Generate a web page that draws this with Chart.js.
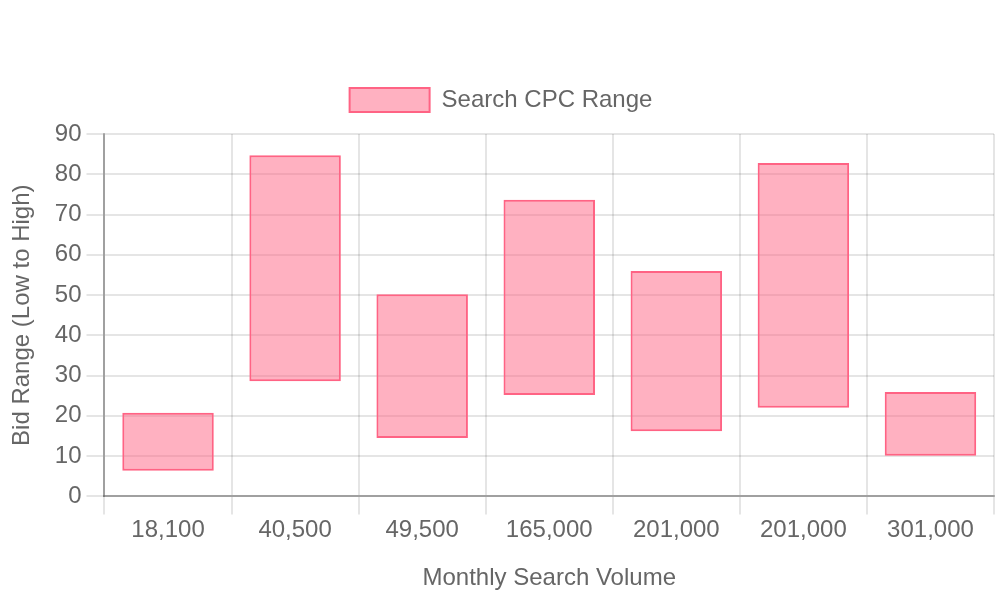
<!DOCTYPE html>
<html>
<head>
<meta charset="utf-8">
<script src="https://cdn.jsdelivr.net/npm/chart.js@4"></script>
<style>
  html, body { margin: 0; padding: 0; background: #fff; }
  #wrap { width: 1000px; height: 600px; }
</style>
</head>
<body>
<div id="wrap"><canvas id="grafico" width="1000" height="600"></canvas></div>
<script>
const volumes = ["18,100", "40,500", "49,500", "165,000", "201,000", "201,000", "301,000"];
const cpcLow = [6.4, 28.6, 14.5, 25.2, 16.2, 22.0, 10.1];
const cpcHigh = [20.8, 84.7, 50.2, 73.7, 56.0, 82.8, 25.9];
const yTicksMax = 90;

Chart.defaults.font.family = "'Liberation Sans', Arial, sans-serif";
Chart.defaults.font.size = 24;
Chart.defaults.color = "#666";

const ranges = cpcLow.map((low, i) => [low, cpcHigh[i]]);

const gradeEixo = {
  color: "rgba(0, 0, 0, 0.1)",
  lineWidth: 2,
  tickLength: 18
};
const bordaEixo = { color: "rgba(0, 0, 0, 0.3)", width: 2 };

// espaço extra abaixo da legenda
const margemLegenda = {
  id: "margemLegenda",
  beforeInit(chart) {
    const fitOriginal = chart.legend.fit;
    chart.legend.fit = function () {
      fitOriginal.bind(chart.legend)();
      this.height += 12;
    };
  }
};

const ctx = document.getElementById("grafico").getContext("2d");

new Chart(ctx, {
  type: "bar",
  data: {
    labels: volumes,
    datasets: [{
      label: "Search CPC Range",
      data: ranges,
      backgroundColor: "rgba(255, 99, 132, 0.5)",
      borderColor: "rgb(255, 99, 132)",
      borderWidth: 2,
      borderSkipped: false
    }]
  },
  plugins: [margemLegenda],
  options: {
    responsive: false,
    animation: false,
    layout: { padding: { top: 68, right: 6, left: 8, bottom: 7 } },
    plugins: {
      legend: {
        labels: { boxWidth: 80, boxHeight: 24, padding: 20 }
      },
      tooltip: { enabled: false }
    },
    scales: {
      x: {
        title: { display: true, text: "Monthly Search Volume", padding: { top: 17, bottom: 0 } },
        grid: gradeEixo,
        border: bordaEixo,
        ticks: { padding: 2 }
      },
      y: {
        min: 0,
        max: yTicksMax,
        grid: gradeEixo,
        border: bordaEixo,
        ticks: { stepSize: 10, padding: 5 },
        title: { display: true, text: "Bid Range (Low to High)", padding: { top: 0, bottom: 13 } }
      }
    }
  }
});
</script>
</body>
</html>
